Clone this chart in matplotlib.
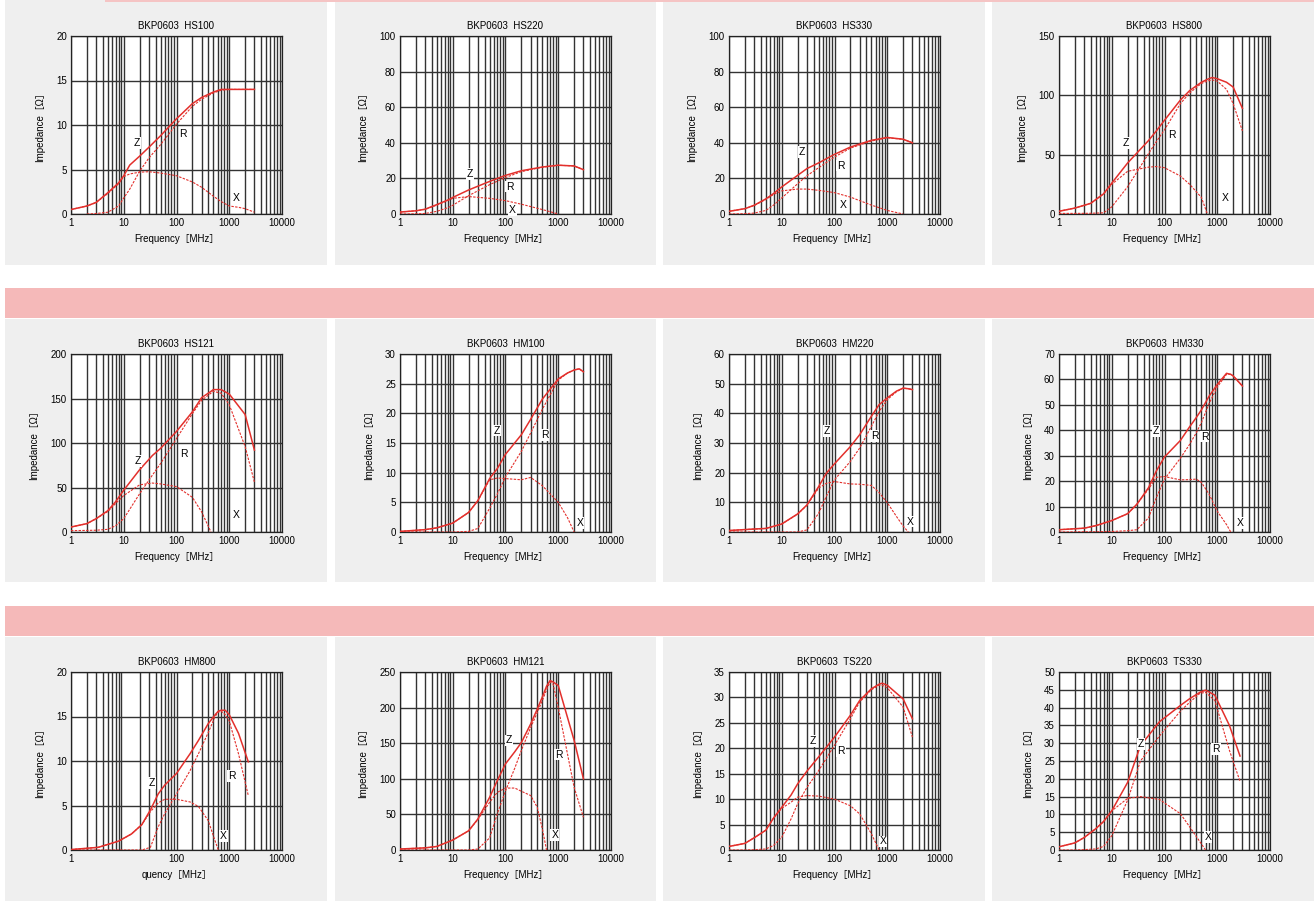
import numpy as np
import matplotlib.pyplot as plt
from matplotlib.patches import Rectangle

nan = np.nan

# ---- data (frequency in MHz, impedance in ohm) ----
hs100_f = [1, 2, 3, 5, 8, 10, 13, 20, 30, 50, 100, 200, 300, 500, 700, 1000, 1500, 2000, 3000]
hs100_z = [0.5, 0.9, 1.3, 2.4, 3.5, 4.3, 5.5, 6.5, 7.5, 8.8, 10.7, 12.4, 13.1, 13.7, 14.0, 14.0, 14.0, 14.0, 14.0]
hs100_r = [nan, 0.0, 0.05, 0.2, 0.9, 1.8, 2.8, 4.8, 6.3, 7.8, 10.1, 12.1, 12.9, 13.6, 13.9, 14.0, 14.0, 14.0, 14.0]
hs100_x = [0.5, 0.9, 1.3, 2.3, 3.4, 4.2, 4.5, 4.7, 4.75, 4.6, 4.3, 3.6, 3.0, 2.0, 1.4, 0.9, 0.75, 0.6, 0.2]

hs220_f = [1, 2, 3, 5, 8, 10, 20, 50, 100, 200, 500, 1000, 2000, 3000]
hs220_z = [1.1, 1.8, 2.7, 5.3, 7.8, 9.3, 13.5, 18.3, 21.7, 24.3, 26.4, 27.4, 27.0, 24.9]
hs220_r = [0, 0.1, 0.3, 1.5, 3.5, 4.9, 10.3, 16.5, 20.5, 23.8, 26.3, 27.4, 27.0, 24.9]
hs220_x = [1.1, 1.8, 2.6, 5.0, 7.5, 8.8, 9.8, 8.8, 7.5, 5.5, 2.5, 0, nan, nan]

hs330_f = [1, 2, 3, 5, 7, 10, 20, 30, 50, 100, 200, 500, 1000, 2000, 3000]
hs330_z = [1.5, 3.0, 4.9, 8.5, 11.5, 15.2, 21.7, 25.5, 28.7, 33.5, 37.6, 41.4, 43.0, 42.0, 40.0]
hs330_r = [0, 0.2, 0.5, 2.0, 5.0, 9.0, 17.0, 21.5, 26.0, 32.0, 37.0, 41.0, 42.8, 42.0, 40.0]
hs330_x = [1.5, 3.0, 4.8, 8.2, 11.0, 13.0, 14.0, 14.0, 13.3, 12.0, 9.5, 5.0, 2.0, 0.0, nan]

hs800_f = [1, 2, 4, 7, 10, 20, 50, 70, 100, 200, 300, 500, 650, 800, 1000, 1500, 2000, 3000]
hs800_z = [2.3, 5.0, 9.0, 17, 26, 43, 62, 70, 79, 96, 104, 111, 113.5, 115, 114, 111, 107, 89]
hs800_r = [0.5, 0.5, 0.6, 1.0, 6.0, 23, 51, 61, 71, 93, 102, 110, 112, 113, 112, 105, 93, 70]
hs800_x = [2.3, 5.0, 9.0, 17, 25, 36, 39.5, 40, 39, 32, 25, 14, 0, nan, nan, nan, nan, nan]

hs121_f = [1, 2, 3, 5, 7, 10, 20, 35, 50, 100, 200, 300, 450, 500, 700, 1000, 2000, 3000]
hs121_z = [5.6, 9.4, 15, 24, 34, 47, 70, 86, 94, 113, 135, 151, 158, 160, 160, 155, 132, 92]
hs121_r = [1.5, 1.8, 2.0, 3.0, 7.0, 15, 43, 64, 77, 105, 133, 148, 156, 158, 156, 143, 96, 56]
hs121_x = [5.6, 9.4, 15, 23, 32, 41, 53, 55, 54, 51, 39, 22.5, 0, nan, nan, nan, nan, nan]

hm100_f = [1, 3, 5, 10, 20, 30, 50, 70, 100, 200, 300, 500, 1000, 1500, 2000, 2500, 3000]
hm100_z = [0.1, 0.4, 0.7, 1.5, 3.3, 5.3, 9.0, 10.7, 13.1, 16.4, 19.0, 22.4, 25.8, 26.8, 27.3, 27.5, 27.0]
hm100_r = [0, 0, 0, 0, 0.1, 0.6, 4.0, 6.4, 9.3, 13.6, 16.7, 20.7, 25.6, 26.8, 27.3, 27.5, 27.0]
hm100_x = [0.1, 0.4, 0.7, 1.5, 3.3, 5.3, 8.8, 9.1, 9.0, 8.8, 9.2, 7.8, 5.0, 2.4, 0, nan, nan]

hm220_f = [1, 3, 5, 10, 20, 30, 50, 70, 100, 200, 300, 500, 700, 1000, 1500, 2000, 2500, 3000]
hm220_z = [0.5, 1.0, 1.2, 2.7, 6.1, 9.1, 15.3, 19.8, 23, 28.8, 32.8, 39, 42.9, 45.2, 47.5, 48.5, 48.3, 48]
hm220_r = [0, 0, 0, 0, 0, 0.7, 6.3, 12, 17.6, 23.8, 28.3, 35.6, 40.6, 44.6, 47.3, 48.5, 48.3, 48]
hm220_x = [0.5, 1.0, 1.2, 2.7, 6.0, 9.0, 14.8, 16.4, 17, 16.2, 16.1, 15.7, 13.3, 9.9, 5.2, 2.0, 0, nan]

hm330_f = [1, 3, 5, 10, 20, 30, 50, 70, 100, 200, 300, 400, 500, 700, 1000, 1500, 1800, 2000, 3000]
hm330_z = [0.9, 1.5, 2.5, 4.5, 7.2, 10.9, 17.5, 24, 29.5, 36, 41.4, 45, 48, 53.4, 58, 62.4, 62, 61.4, 57.4]
hm330_r = [0, 0.1, 0.1, 0.2, 0.5, 0.9, 5.6, 13.5, 20.8, 29, 34.5, 39, 43, 50.5, 57, 62, 62, 61.4, 57.4]
hm330_x = [0.9, 1.5, 2.5, 4.5, 7.2, 11, 16.9, 21.5, 21.8, 20.5, 20.6, 20.8, 19.5, 14.9, 8.2, 2.9, 0, nan, nan]

hm800_f = [1, 3.3, 8, 14, 22, 32, 45, 60, 100, 180, 260, 400, 540, 620, 700, 840, 1000, 1500, 2300]
hm800_z = [0.05, 0.3, 1.0, 1.8, 2.85, 4.5, 6.3, 7.3, 8.6, 10.8, 12.3, 14.2, 15.2, 15.6, 15.7, 15.7, 15.2, 13.1, 9.9]
hm800_r = [0, 0, 0, 0, 0, 0.3, 2.6, 4.1, 6.3, 8.9, 10.8, 13.2, 15.0, 15.5, 15.6, 15.2, 14.5, 10.8, 6.1]
hm800_x = [0.05, 0.3, 1.0, 1.8, 2.85, 4.3, 5.3, 5.7, 5.7, 5.4, 4.9, 3.3, 1.0, 0, nan, nan, nan, nan, nan]

hm121_f = [1, 3, 5, 10, 20, 30, 50, 70, 100, 150, 200, 300, 400, 500, 600, 700, 800, 1000, 2000, 3000]
hm121_z = [1.4, 3, 5, 14, 27, 43.6, 74, 97.6, 121, 138, 151, 177, 198, 215, 230, 238, 236, 231, 154, 100]
hm121_r = [0, 0, 0, 0, 0, 1.4, 17, 51, 83, 115, 140, 172, 193, 210, 225, 236, 233, 200, 88, 46]
hm121_x = [1.4, 3, 5, 14, 27, 43, 67, 81, 87, 87, 82.5, 76.5, 60, 29.5, 0, nan, nan, nan, nan, nan]

ts220_f = [1, 2, 3, 5, 7, 10, 15, 20, 30, 50, 100, 200, 300, 500, 700, 800, 1000, 2000, 3000]
ts220_z = [0.7, 1.3, 2.4, 3.9, 6.3, 8.4, 10.8, 13, 15.5, 18.3, 22.2, 26.5, 29.4, 31.7, 32.6, 32.8, 32.4, 29.7, 25.8]
ts220_r = [0, 0, 0.05, 0.2, 0.9, 2.5, 6.1, 9.1, 12.3, 15.6, 20.6, 25.8, 29.1, 31.5, 32.4, 32.4, 31.9, 28.1, 22.2]
ts220_x = [0.7, 1.3, 2.4, 3.9, 6.3, 8.2, 9.4, 10.4, 10.7, 10.6, 10, 8.7, 7.1, 3.2, 0, nan, nan, nan, nan]

ts330_f = [1, 2, 3, 5, 7, 10, 20, 35, 80, 200, 300, 470, 600, 900, 1700, 2700]
ts330_z = [0.9, 2.0, 3.5, 6.0, 8.0, 11.0, 19, 29.3, 36, 40.6, 42.5, 44.3, 44.9, 43.5, 35, 26.4]
ts330_r = [0, 0, 0.1, 0.3, 1.0, 4.0, 14, 25, 32, 39, 41.5, 44, 44.3, 42, 28, 19.3]
ts330_x = [0.9, 2.0, 3.5, 6.0, 8.0, 11, 14.5, 15, 14.2, 10.2, 6.5, 2.3, 0, nan, nan, nan]

titles = ["BKP0603  HS100", "BKP0603  HS220", "BKP0603  HS330", "BKP0603  HS800",
          "BKP0603  HS121", "BKP0603  HM100", "BKP0603  HM220", "BKP0603  HM330",
          "BKP0603  HM800", "BKP0603  HM121", "BKP0603  TS220", "BKP0603  TS330"]
ymax = [20, 100, 100, 150, 200, 30, 60, 70, 20, 250, 35, 50]
ystep = [5, 20, 20, 50, 50, 5, 10, 10, 5, 50, 5, 5]

# where the Z / R / X letters sit (freq, value)
z_lab = [(18, 8.0), (21.5, 22.6), (24, 34.8), (18.5, 60), (18.8, 80), (69, 17.1),
         (71, 34), (69, 39.7), (34, 7.5), (116, 154), (38.5, 21.4), (36, 29.8)]
r_lab = [(134, 9.0), (119, 15.4), (132, 27.2), (139, 66.6), (139, 88), (553, 16.3),
         (573, 32.4), (578, 37.5), (1120, 8.3), (1007, 134), (133, 19.4), (947, 28.4)]
x_lab = [(1350, 1.8), (136, 2.1), (148, 4.9), (1440, 13.6), (1377, 18.8), (2600, 1.5),
         (2750, 3.5), (2690, 3.6), (780, 1.6), (857, 21), (824, 1.7), (668, 3.7)]

series = [(hs100_f, hs100_z, hs100_r, hs100_x), (hs220_f, hs220_z, hs220_r, hs220_x),
          (hs330_f, hs330_z, hs330_r, hs330_x), (hs800_f, hs800_z, hs800_r, hs800_x),
          (hs121_f, hs121_z, hs121_r, hs121_x), (hm100_f, hm100_z, hm100_r, hm100_x),
          (hm220_f, hm220_z, hm220_r, hm220_x), (hm330_f, hm330_z, hm330_r, hm330_x),
          (hm800_f, hm800_z, hm800_r, hm800_x), (hm121_f, hm121_z, hm121_r, hm121_x),
          (ts220_f, ts220_z, ts220_r, ts220_x), (ts330_f, ts330_z, ts330_r, ts330_x)]

W, H = 1314, 901
RED = '#e3302c'
plt.rcParams['font.family'] = ['Liberation Sans', 'Noto Sans CJK JP', 'DejaVu Sans']

fig = plt.figure(figsize=(W / 100, H / 100), dpi=100)
fig.patch.set_facecolor('white')


def rect(x0, y0, x1, y1, color):
    # pixel box (top-left origin) -> figure patch
    fig.add_artist(Rectangle((x0 / W, 1 - y1 / H), (x1 - x0) / W, (y1 - y0) / H,
                             transform=fig.transFigure, color=color, lw=0, zorder=0))


# backgrounds
cols = [(5, 327), (335, 656), (663, 985), (992, 1314)]
rows = [(0, 265), (319, 582), (637, 901)]
for (y0, y1) in rows:
    for (x0, x1) in cols:
        rect(x0, y0, x1, y1, '#efefef')
rect(105, 0, 1314, 1.5, '#f5c4c4')
rect(5, 288, 1314, 318, '#f5b9b9')
rect(5, 606, 1314, 636, '#f5b9b9')

ax_left = [71, 400, 729, 1059]
ax_top = [36, 354, 672]
aw, ah = 211, 178

for i in range(12):
    r, c = divmod(i, 4)
    ax = fig.add_axes([ax_left[c] / W, 1 - (ax_top[r] + ah) / H, aw / W, ah / H])
    ax.set_facecolor('white')
    f, z, rr, xx = series[i]
    ax.plot(f, z, color=RED, lw=1.1, zorder=3)
    ax.plot(f, rr, color=RED, lw=0.8, ls=(0, (2.2, 1.2)), zorder=3)
    ax.plot(f, xx, color=RED, lw=0.8, ls=(0, (2.2, 1.2)), zorder=3)

    ax.set_xscale('log')
    ax.set_xlim(1, 10000)
    ax.set_ylim(0, ymax[i])
    ax.set_yticks(np.arange(0, ymax[i] + 0.1, ystep[i]))
    if i == 8:
        xt = [1, 100, 1000, 10000]
    else:
        xt = [1, 10, 100, 1000, 10000]
    ax.set_xticks(xt)
    ax.set_xticklabels([str(v) for v in xt])
    ax.grid(which='both', axis='x', color='#333333', lw=1.0)
    ax.grid(which='major', axis='y', color='#333333', lw=1.0)
    ax.set_axisbelow(True)
    ax.tick_params(which='both', length=0, labelsize=7, pad=3)
    for s in ax.spines.values():
        s.set_color('#222222')
        s.set_linewidth(0.9)

    ax.set_title(titles[i], fontsize=7, pad=5)
    ax.set_ylabel('Impedance［Ω］', fontsize=7, labelpad=8)
    ax.set_xlabel('quency［MHz］' if i == 8 else 'Frequency［MHz］', fontsize=7, labelpad=4)

    box = dict(facecolor='white', edgecolor='none', pad=0.6)
    for lab, pos in (('Z', z_lab[i]), ('R', r_lab[i]), ('X', x_lab[i])):
        ax.text(pos[0], pos[1], lab, fontsize=7.5, ha='center', va='center',
                bbox=box, zorder=4)

fig.savefig('out.png', dpi=100, facecolor=fig.get_facecolor())
